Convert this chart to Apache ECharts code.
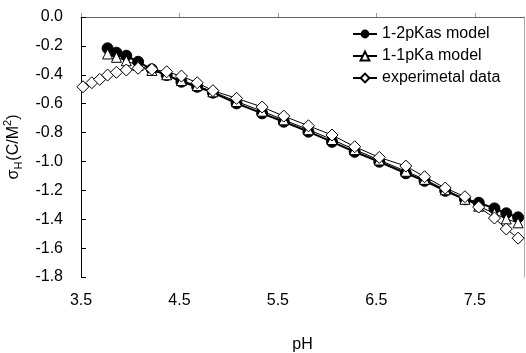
<!DOCTYPE html>
<html>
<head>
<meta charset="utf-8">
<script src="https://cdn.jsdelivr.net/npm/echarts@6/dist/echarts.min.js"></script>
<style>
html,body{margin:0;padding:0;background:#fff;}
#chart{width:526px;height:353px;}
</style>
</head>
<body>
<div id="chart"></div>
<script>
// ---- data ----
var phExp = [3.52, 3.61, 3.69, 3.77, 3.86, 3.96, 4.08, 4.22, 4.37, 4.52, 4.68, 4.84, 5.08, 5.34, 5.56, 5.81, 6.05, 6.28, 6.53, 6.80, 6.99, 7.20, 7.40, 7.54, 7.70, 7.82, 7.94];
var sigmaExp = [-0.483, -0.455, -0.432, -0.402, -0.383, -0.367, -0.355, -0.362, -0.379, -0.409, -0.455, -0.510, -0.563, -0.623, -0.686, -0.753, -0.817, -0.898, -0.972, -1.032, -1.106, -1.184, -1.244, -1.316, -1.392, -1.468, -1.531];
var phModel = [3.77, 3.86, 3.96, 4.08, 4.22, 4.37, 4.52, 4.68, 4.84, 5.08, 5.34, 5.56, 5.81, 6.05, 6.28, 6.53, 6.80, 6.99, 7.20, 7.40, 7.54, 7.70, 7.82, 7.94];
var sigma2pKa = [-0.217, -0.247, -0.268, -0.310, -0.362, -0.402, -0.448, -0.483, -0.524, -0.598, -0.667, -0.725, -0.794, -0.864, -0.933, -1.002, -1.082, -1.134, -1.203, -1.262, -1.286, -1.325, -1.359, -1.387];
var sigma1pKa = [-0.256, -0.279, -0.303, -0.335, -0.370, -0.400, -0.440, -0.475, -0.518, -0.585, -0.652, -0.712, -0.780, -0.848, -0.918, -0.990, -1.068, -1.124, -1.196, -1.262, -1.310, -1.360, -1.398, -1.425];
var xTicks = [3.5, 4.5, 5.5, 6.5, 7.5];
var seriesNames = ['1-2pKas model', '1-1pKa model', 'experimetal data'];

function pairs(xs, ys) { return xs.map(function (x, i) { return [x, ys[i]]; }); }

var FONT = 'Liberation Sans, Arial, sans-serif';
var chart = echarts.init(document.getElementById('chart'), null, { renderer: 'canvas' });
chart.setOption({
  backgroundColor: '#ffffff',
  animation: false,
  textStyle: { fontFamily: FONT, color: '#000' },
  grid: { left: 81, right: 2, top: 17, bottom: 76, containLabel: false, outerBoundsMode: 'none' },
  legend: {
    orient: 'vertical',
    left: 347,
    top: 21,
    itemWidth: 24,
    itemHeight: 11,
    itemGap: 6,
    data: seriesNames,
    textStyle: { fontFamily: FONT, fontSize: 16, color: '#000' }
  },
  xAxis: {
    type: 'value',
    min: 3.5,
    max: 8.0,
    name: 'pH',
    nameLocation: 'middle',
    nameGap: 60,
    nameTextStyle: { fontFamily: FONT, fontSize: 16, color: '#000' },
    axisLine: { show: true, lineStyle: { color: '#666', width: 1 } },
    axisTick: { show: true, inside: true, length: 4, customValues: xTicks, lineStyle: { color: '#999' } },
    axisLabel: { customValues: xTicks, margin: 16, fontSize: 16, color: '#000', fontFamily: FONT,
      formatter: function (v) { return v.toFixed(1); } },
    splitLine: { show: false }
  },
  yAxis: [{
    type: 'value',
    min: -1.8,
    max: 0,
    interval: 0.2,
    name: '{s|σ}{sub|H}{n|(C/M}{sup|2}{n|)}',
    nameLocation: 'middle',
    nameGap: 54,
    nameTextStyle: {
      fontFamily: FONT, color: '#000',
      rich: {
        s: { fontSize: 16, fontFamily: FONT, lineHeight: 22, verticalAlign: 'middle' },
        n: { fontSize: 16, fontFamily: FONT, lineHeight: 22, verticalAlign: 'middle' },
        sub: { fontSize: 11, fontFamily: FONT, lineHeight: 22, verticalAlign: 'bottom', padding: [0, 1, 0, 0] },
        sup: { fontSize: 11, fontFamily: FONT, lineHeight: 22, verticalAlign: 'top' }
      }
    },
    axisLine: { show: true, lineStyle: { color: '#000', width: 1 } },
    axisTick: { show: true, inside: true, length: 5, lineStyle: { color: '#000' } },
    axisLabel: { margin: 18, fontSize: 16, color: '#000', fontFamily: FONT,
      formatter: function (v) { return v.toFixed(1); } },
    splitLine: { show: false }
  }, {
    type: 'value',
    position: 'right',
    min: -1.8,
    max: 0,
    axisLine: { show: true, lineStyle: { color: '#aaa', width: 1 } },
    axisTick: { show: false },
    axisLabel: { show: false },
    splitLine: { show: false }
  }],
  series: [{
    name: seriesNames[0],
    type: 'line',
    data: pairs(phModel, sigma2pKa),
    symbol: 'circle',
    symbolSize: 11,
    itemStyle: { color: '#000', borderColor: '#000' },
    lineStyle: { color: '#000', width: 2 },
    z: 2
  }, {
    name: seriesNames[1],
    type: 'line',
    data: pairs(phModel, sigma1pKa),
    symbol: 'triangle',
    symbolSize: 10,
    itemStyle: { color: '#fff', borderColor: '#000', borderWidth: 1 },
    lineStyle: { color: '#000', width: 1 },
    z: 3
  }, {
    name: seriesNames[2],
    type: 'line',
    data: pairs(phExp, sigmaExp),
    symbol: 'diamond',
    symbolSize: 12,
    itemStyle: { color: '#fff', borderColor: '#000', borderWidth: 1 },
    lineStyle: { color: '#000', width: 1 },
    z: 4
  }]
});
</script>
</body>
</html>
